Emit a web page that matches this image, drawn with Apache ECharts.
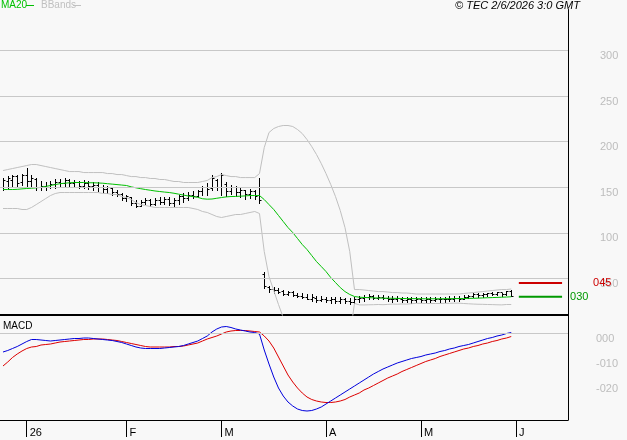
<!DOCTYPE html>
<html><head><meta charset="utf-8">
<script src="https://cdn.jsdelivr.net/npm/echarts@6/dist/echarts.min.js"></script>
<style>html,body{margin:0;padding:0;background:#f8f8f8}#c{width:627px;height:440px}</style>
</head><body><div id="c"></div>
<script>
const monthIdx = [5, 26, 46, 68, 88, 108];
const monthLabels = ['26', 'F', 'M', 'A', 'M', 'J'];
const priceTicks = [50, 100, 150, 200, 250, 300];
const macdTicks = [0, -10, -20];
const levelValues = [45, 30];
const levelLabels = ['045', '030'];

const high = [160.7,162.9,164.0,164.0,165.1,171.7,164.0,160.7,156.4,155.3,
156.4,158.6,158.6,160.7,158.6,157.5,156.4,157.5,156.4,155.3,
155.3,153.1,152.0,149.8,147.6,144.3,142.1,139.9,136.6,136.6,
138.8,137.7,138.8,139.9,139.9,139.9,138.8,142.1,144.3,145.4,
146.5,147.6,152.0,154.2,164.0,158.6,166.2,155.3,153.1,152.0,
149.8,147.6,148.7,147.6,160.7,57.7,42.3,41.2,40.1,37.9,
36.8,36.8,34.6,33.6,32.5,32.5,30.3,30.3,29.2,29.2,
29.2,29.2,28.1,28.1,29.2,30.3,31.4,32.5,31.4,31.4,
31.4,30.3,30.3,30.3,29.2,29.2,29.2,29.2,29.2,29.2,
29.2,29.2,29.2,29.2,30.3,30.3,30.3,31.4,31.4,33.6,
33.6,33.6,34.6,35.7,35.7,34.6,36.8,37.9];
const low = [147.6,149.8,151.6,151.6,153.1,151.6,151.6,147.6,147.6,147.6,
149.8,149.8,151.6,151.6,151.6,151.6,149.8,149.8,148.7,147.6,
146.5,145.4,144.3,142.1,141.0,136.6,135.5,131.1,127.9,129.0,
132.2,130.0,131.1,132.2,132.2,131.1,130.0,132.2,134.4,136.6,
138.8,139.9,142.1,142.1,147.6,147.6,142.1,141.0,143.2,141.0,
139.9,137.7,138.8,137.7,133.3,40.1,35.7,34.6,33.6,31.4,
31.4,30.3,29.2,28.1,27.0,25.9,24.8,25.9,24.8,23.7,
23.7,23.7,23.7,22.6,23.7,24.8,25.9,27.0,27.0,27.0,
27.0,25.9,24.8,25.9,24.8,24.8,23.7,24.8,24.8,24.8,
24.8,25.9,24.8,24.8,25.9,25.9,25.9,27.0,28.1,29.2,
29.2,29.2,30.3,31.4,31.4,30.3,31.4,30.3];
const open = [150,157,158,162,156,163,157,159,150,152,
150,154,156,155,158,155,156,152,155,151,
153,150,148,149,145,143,138,139,133,130,
134,136,132,136,134,137,133,136,140,138,
142,141,146,150,149,158,150,154,146,150,
145,147,143,146,150,55,41,38,37,36,
33,35,32,31,30,28,29,26,28,26,
27,25,27,25,24,27,29,30,31,29,
30,29,28,27,28,26,28,26,27,26,
28,26,28,27,28,27,29,28,30,31,
33,32,33,34,33,35,33,36];
const close = [158,160,162,155,163,157,160,150,152,150,
154,156,155,158,155,156,152,155,151,153,
150,148,150,145,143,138,140,133,130,134,
136,132,136,134,137,133,136,140,138,142,
141,146,150,148,160,150,164,146,150,145,
147,143,146,141,136,42,38,37,35,33,
35,32,31,30,28,30,26,28,26,27,
25,27,25,24,28,29,30,31,29,30,
29,28,27,29,26,28,26,27,26,28,
26,28,27,28,27,29,28,30,31,33,
32,33,34,33,35,33,36,31];
const ma20 = [147.6,147.6,147.6,147.8,148.3,148.7,149.0,149.5,150.0,151.0,
152.0,153.0,154.0,154.5,155.0,155.3,155.3,155.3,155.0,155.0,
154.8,154.5,154.0,153.5,153.0,152.5,152.0,150.5,149.5,148.5,
147.6,146.8,146.0,145.4,144.8,144.3,143.5,142.5,141.5,140.5,
139.8,139.0,137.5,137.0,137.2,138.0,138.8,139.5,139.9,140.0,
140.3,140.6,141.0,141.0,141.0,136.6,131.1,125.7,119.1,112.5,
105.9,100.4,93.9,87.3,81.8,75.2,68.6,63.2,57.7,51.1,
45.6,40.1,35.7,32.5,30.3,29.5,29.2,29.0,28.8,28.6,
28.5,28.4,28.3,28.2,28.1,28.0,28.0,27.9,27.9,27.8,
27.8,27.8,27.8,27.9,27.9,28.0,28.0,28.1,28.2,28.3,
28.5,28.7,28.9,29.1,29.3,29.5,29.7,30.0];
const bbUpper = [168.4,169.5,170.6,171.7,172.8,173.9,175.0,175.0,173.9,172.8,
171.7,170.6,169.5,168.4,167.3,167.3,167.3,166.2,166.2,166.2,
166.2,166.2,165.1,165.1,164.0,164.0,162.9,161.8,161.8,160.7,
160.7,159.7,159.7,158.6,158.6,157.5,156.4,156.4,155.3,155.3,
155.3,155.3,156.4,157.5,160.7,161.8,164.0,162.9,161.8,161.8,
160.7,160.7,160.7,160.7,165.1,193.6,210.1,214.5,216.7,217.8,
217.8,216.7,213.4,209.0,202.4,194.7,186.0,176.1,165.1,153.1,
139.9,124.6,105.9,79.6,37.9,37.9,37.4,36.8,36.3,35.7,
35.7,35.2,34.6,34.6,34.1,34.1,33.6,33.0,33.0,33.0,
33.0,33.0,33.0,33.0,33.0,33.0,33.0,33.6,34.1,34.6,
35.2,35.7,36.3,36.8,37.4,37.9,37.9,38.5];
const bbLower = [126.8,126.8,126.8,126.8,125.7,125.7,127.9,131.1,134.4,137.7,
141.0,143.2,144.3,144.3,144.3,144.3,144.3,144.3,144.3,144.3,
144.3,143.2,143.2,142.1,142.1,139.9,138.8,136.6,133.3,131.1,
130.0,129.0,127.9,127.9,127.9,127.9,127.9,127.9,127.9,127.9,
126.8,125.7,123.5,122.4,120.2,118.0,116.9,118.0,119.1,120.2,
120.2,121.3,122.4,123.5,121.3,79.6,52.1,36.9,21.5,7.2,
-6.0,-15.9,-25.6,-34.4,-38.8,-44.3,-48.8,-49.7,-49.7,-50.9,
-48.7,-44.4,-34.5,-14.6,22.7,21.1,21.0,21.2,21.3,21.5,
21.3,21.6,22.0,21.8,22.1,21.9,22.4,22.8,22.8,22.6,
22.6,22.6,22.6,22.8,22.8,23.0,23.0,22.6,22.3,22.0,
21.8,21.7,21.5,21.4,21.2,21.1,21.5,21.5];
const macd = [-7.6,-7.0,-6.2,-5.4,-4.4,-3.4,-2.6,-2.6,-2.8,-3.0,
-3.2,-3.0,-2.8,-2.6,-2.4,-2.2,-2.2,-2.0,-2.0,-2.2,
-2.4,-2.6,-2.8,-3.0,-3.4,-3.8,-4.4,-5.0,-5.6,-6.0,
-6.2,-6.2,-6.2,-6.2,-6.0,-5.8,-5.6,-5.4,-5.0,-4.4,
-3.8,-3.2,-2.2,-1.2,0.4,1.6,2.4,2.6,2.2,1.6,
1.2,0.8,0.4,0.2,-0.4,-6.8,-12.4,-17.6,-22.0,-25.2,
-27.6,-29.2,-30.4,-31.0,-31.2,-31.0,-30.4,-29.6,-28.4,-27.2,
-26.0,-24.8,-23.6,-22.4,-21.2,-20.0,-18.8,-17.6,-16.4,-15.4,
-14.4,-13.6,-12.8,-12.0,-11.4,-10.8,-10.2,-9.8,-9.4,-8.8,
-8.4,-8.0,-7.4,-7.0,-6.4,-6.0,-5.4,-5.0,-4.6,-4.0,
-3.4,-2.8,-2.2,-1.8,-1.2,-0.8,-0.2,0.2];
const signal = [-13.2,-11.6,-9.8,-8.4,-7.2,-6.2,-5.6,-5.4,-4.8,-4.6,
-4.4,-4.0,-3.6,-3.4,-3.2,-3.0,-2.8,-2.6,-2.6,-2.4,
-2.4,-2.4,-2.6,-2.8,-3.0,-3.4,-3.8,-4.2,-4.6,-5.0,
-5.4,-5.6,-5.6,-5.6,-5.6,-5.6,-5.4,-5.4,-5.2,-4.8,
-4.4,-4.0,-3.2,-2.4,-1.8,-1.2,-0.4,0.4,0.8,1.0,
1.0,1.0,0.8,0.6,0.4,-1.2,-3.2,-6.0,-9.6,-13.2,
-16.8,-19.6,-22.0,-24.0,-25.6,-26.6,-27.2,-27.6,-27.8,-27.8,
-27.6,-27.2,-26.6,-25.6,-24.8,-24.0,-22.8,-22.0,-21.0,-20.0,
-19.0,-18.0,-17.2,-16.4,-15.4,-14.6,-13.8,-13.0,-12.2,-11.4,
-10.8,-10.2,-9.4,-8.8,-8.2,-7.6,-7.0,-6.4,-6.0,-5.4,
-5.0,-4.4,-4.0,-3.4,-3.0,-2.4,-2.0,-1.4];

const N = close.length;
const xMin = -0.63, xMax = 118.95;
const fmt3 = v => (v < 0 ? '-' : '') + String(Math.abs(v)).padStart(3, '0');
const pair = arr => arr.map((v, i) => [i, v]);
const ohlc = close.map((c, i) => [i, open[i], high[i], low[i], c]);
const FONT = 'Arial, "Liberation Sans", sans-serif';

function renderOHLC(params, api) {
  const i = api.value(0);
  const h = api.coord([i, api.value(2)]);
  const l = api.coord([i, api.value(3)]);
  const o = api.coord([i, api.value(1)]);
  const c = api.coord([i, api.value(4)]);
  const x = Math.round(h[0]) + 0.5;
  const st = { stroke: '#000', lineWidth: 1 };
  const oy = Math.round(o[1]) + 0.5, cy = Math.round(c[1]) + 0.5;
  return { type: 'group', children: [
    { type: 'line', shape: { x1: x, y1: Math.round(h[1]), x2: x, y2: Math.round(l[1]) + 1 }, style: st },
    { type: 'line', shape: { x1: x - 2, y1: oy, x2: x, y2: oy }, style: st },
    { type: 'line', shape: { x1: x, y1: cy, x2: x + 2, y2: cy }, style: st }
  ]};
}

const levelColors = ['#cc0000', '#009900'];
const levelDist = [31, 8];
const levelSeries = levelValues.map((v, k) => ({
  type: 'line', xAxisIndex: 0, yAxisIndex: 0, silent: true, symbol: 'none',
  data: [[N + 0.6, v], [N + 9.7, v]],
  lineStyle: { color: levelColors[k], width: 2 },
  endLabel: { show: true, formatter: levelLabels[k], color: levelColors[k], distance: levelDist[k], fontSize: 11, fontFamily: FONT }
}));

const chart = echarts.init(document.getElementById('c'), null, { renderer: 'canvas' });
chart.setOption({
  animation: false,
  backgroundColor: '#f8f8f8',
  textStyle: { fontFamily: FONT },
  grid: [
    { left: 0, top: 9.5, width: 568, height: 305.5 },
    { left: 0, top: 315, width: 568, height: 105 }
  ],
  xAxis: [
    { gridIndex: 0, type: 'value', min: xMin, max: xMax,
      axisLine: { show: true, onZero: false, lineStyle: { color: '#000', width: 2 } },
      axisTick: { show: false }, axisLabel: { show: false }, splitLine: { show: false } },
    { gridIndex: 1, type: 'value', min: xMin, max: xMax,
      axisLine: { show: true, onZero: false, lineStyle: { color: '#000', width: 1 } },
      axisTick: { show: true, customValues: monthIdx, length: 17, lineStyle: { color: '#000' } },
      axisLabel: { show: true, customValues: monthIdx, formatter: v => monthLabels[monthIdx.indexOf(v)],
        align: 'left', verticalAlign: 'top', margin: 7, padding: [0, 0, 0, 3], color: '#000', fontSize: 11 },
      splitLine: { show: false } }
  ],
  yAxis: [
    { gridIndex: 0, type: 'value', position: 'right', min: 10, max: 345,
      axisLine: { show: true, onZero: false, lineStyle: { color: '#000' } }, axisTick: { show: false }, splitLine: { show: false },
      axisLabel: { customValues: priceTicks, formatter: fmt3, color: '#bdbdbd', fontSize: 11, margin: 32, verticalAlign: 'top' } },
    { gridIndex: 1, type: 'value', position: 'right', min: -34.8, max: 7.2,
      axisLine: { show: true, onZero: false, lineStyle: { color: '#000' } }, axisTick: { show: false }, splitLine: { show: false },
      axisLabel: { customValues: macdTicks, formatter: fmt3, color: '#bdbdbd', fontSize: 11, margin: 28, verticalAlign: 'top' } }
  ],
  graphic: [
    { type: 'text', left: 1, top: 0, style: { text: 'MA20', fill: '#00c000', font: '10px ' + FONT } },
    { type: 'line', shape: { x1: 26, y1: 5.5, x2: 34, y2: 5.5 }, style: { stroke: '#00c000', lineWidth: 1 } },
    { type: 'text', left: 41, top: 0, style: { text: 'BBands', fill: '#c0c0c0', font: '10px ' + FONT } },
    { type: 'line', shape: { x1: 73, y1: 5.5, x2: 81, y2: 5.5 }, style: { stroke: '#c0c0c0', lineWidth: 1 } },
    { type: 'text', left: 455, top: 0, style: { text: '© TEC 2/6/2026 3:0 GMT', fill: '#000', font: 'italic 11px ' + FONT } },
    { type: 'text', left: 3, top: 321, style: { text: 'MACD', fill: '#000', font: '10px ' + FONT } }
  ],
  series: [
    { type: 'line', xAxisIndex: 0, yAxisIndex: 0, silent: true, symbol: 'none', data: pair(bbUpper),
      lineStyle: { color: '#c0c0c0', width: 1 },
      markLine: { silent: true, symbol: 'none', label: { show: false }, lineStyle: { color: '#c8c8c8', type: 'solid', width: 1 },
        data: priceTicks.map(v => ({ yAxis: v })) } },
    { type: 'line', xAxisIndex: 0, yAxisIndex: 0, silent: true, symbol: 'none', data: pair(bbLower),
      lineStyle: { color: '#c0c0c0', width: 1 } },
    { type: 'line', xAxisIndex: 0, yAxisIndex: 0, silent: true, symbol: 'none', data: pair(ma20),
      lineStyle: { color: '#00c000', width: 1 } },
    { type: 'custom', xAxisIndex: 0, yAxisIndex: 0, silent: true, data: ohlc, renderItem: renderOHLC,
      encode: { x: 0, y: [1, 2, 3, 4] }, clip: true },
    ...levelSeries,
    { type: 'line', xAxisIndex: 1, yAxisIndex: 1, silent: true, symbol: 'none', data: pair(signal),
      lineStyle: { color: '#dd0000', width: 1 },
      markLine: { silent: true, symbol: 'none', label: { show: false }, lineStyle: { color: '#c8c8c8', type: 'solid', width: 1 },
        data: [{ yAxis: 0 }] } },
    { type: 'line', xAxisIndex: 1, yAxisIndex: 1, silent: true, symbol: 'none', data: pair(macd),
      lineStyle: { color: '#0000dd', width: 1 } }
  ]
});
</script>
</body></html>
